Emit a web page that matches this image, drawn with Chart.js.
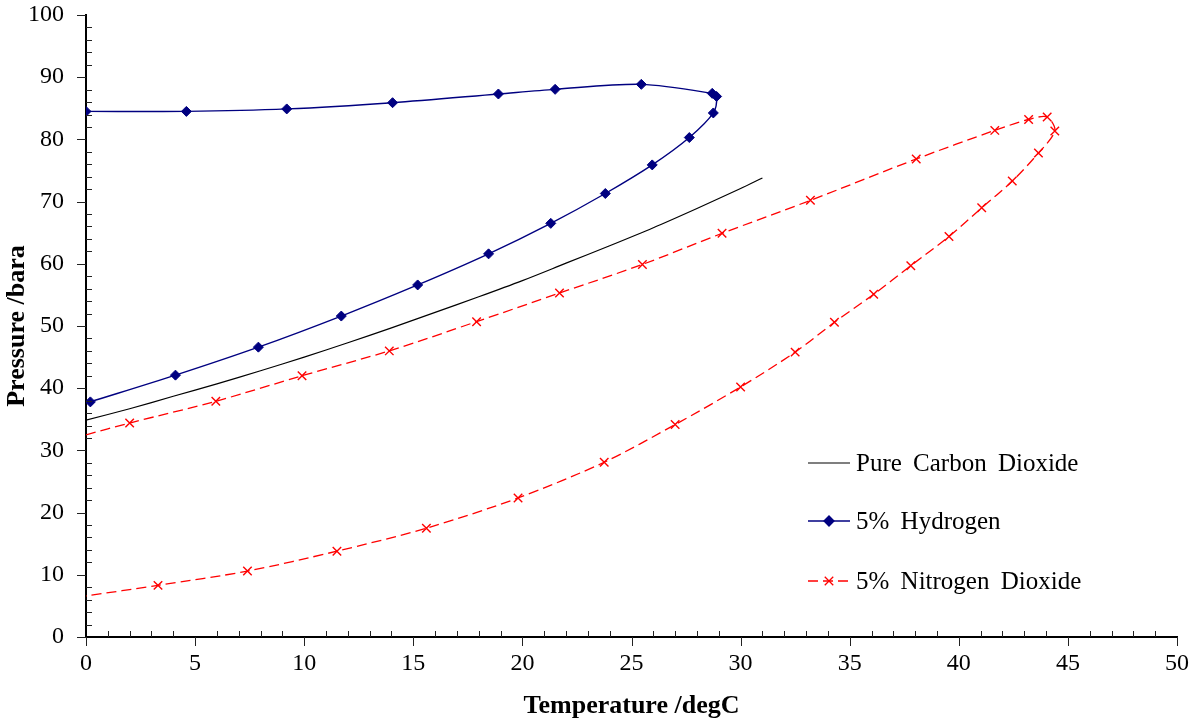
<!DOCTYPE html>
<html>
<head>
<meta charset="utf-8">
<script src="https://cdn.jsdelivr.net/npm/chart.js@4"></script>
<style>
  body { margin: 0; background: #fff; }
  #wrap { width: 1196px; height: 724px; position: relative; }
</style>
</head>
<body>
<div id="wrap"><canvas id="myChart"></canvas></div>
<script>
// Pure CO2 saturation line (no markers)
const co2Temp = [0, 2, 4, 6, 8, 10, 12, 14, 16, 18, 20, 22, 24, 26, 28, 30, 31];
const co2Pres = [34.85, 36.7, 38.7, 40.7, 42.8, 45.0, 47.3, 49.7, 52.2, 54.7, 57.3, 60.1, 62.9, 65.8, 68.9, 72.1, 73.8];

// 5% Hydrogen envelope
const h2Temp = [0.2, 4.1, 7.9, 11.7, 15.2, 18.45, 21.3, 23.8, 25.95, 27.65, 28.75, 28.9, 28.7, 25.45, 21.5, 18.9, 14.05, 9.2, 4.6, 0.0];
const h2Pres = [37.8, 42.1, 46.6, 51.6, 56.6, 61.6, 66.5, 71.3, 75.9, 80.3, 84.25, 86.9, 87.4, 88.85, 88.05, 87.3, 85.9, 84.9, 84.5, 84.5];

// 5% Nitrogen Dioxide envelope
const n2oTemp = [0, 2.0, 5.95, 9.9, 13.9, 17.9, 21.7, 25.5, 29.15, 33.2, 38.05, 41.65, 43.2, 44.05, 44.4, 43.65, 42.45, 41.05, 39.55, 37.8, 36.1, 34.3, 32.5, 30.0, 27.0, 23.75, 19.8, 15.6, 11.5, 7.4, 3.3, 0];
const n2oPres = [32.5, 34.4, 37.9, 42.0, 46.0, 50.7, 55.3, 59.9, 64.9, 70.2, 76.85, 81.45, 83.2, 83.6, 81.35, 77.8, 73.3, 69.0, 64.4, 59.7, 55.1, 50.6, 45.8, 40.2, 34.15, 28.1, 22.35, 17.5, 13.8, 10.6, 8.3, 6.6];

const seriesNames = ["Pure Carbon Dioxide", "5% Hydrogen", "5% Nitrogen Dioxide"];

const xTicks = { min: 0, max: 50, major: 5, minor: 1 };
const yTicks = { min: 0, max: 100, major: 10, minor: 2 };

function pairs(xs, ys) {
    return xs.map((x, i) => ({ x: x, y: ys[i] }));
}

const FONT = "'Liberation Serif', 'Times New Roman', serif";

// tick marks: major outward, minor inward
const tickPlugin = {
    id: 'tickMarks',
    afterDraw(chart) {
        const ctx = chart.ctx;
        const xs = chart.scales.x, ys = chart.scales.y;
        const left = chart.chartArea.left, bottom = chart.chartArea.bottom;
        ctx.save();
        ctx.strokeStyle = '#222';
        ctx.lineWidth = 1;
        ctx.beginPath();
        for (let v = yTicks.min; v <= yTicks.max; v += yTicks.minor) {
            const py = Math.round(ys.getPixelForValue(v)) + 0.5;
            if (v % yTicks.major === 0) {
                ctx.moveTo(left - 9, py); ctx.lineTo(left, py);
            } else {
                ctx.moveTo(left, py); ctx.lineTo(left + 6, py);
            }
        }
        for (let v = xTicks.min; v <= xTicks.max; v += xTicks.minor) {
            const px = Math.round(xs.getPixelForValue(v)) + 0.5;
            if (v % xTicks.major === 0) {
                ctx.moveTo(px, bottom); ctx.lineTo(px, bottom + 9);
            } else {
                ctx.moveTo(px, bottom); ctx.lineTo(px, bottom - 6);
            }
        }
        ctx.stroke();
        ctx.restore();
    }
};

// legend drawn inside the plot, lower right
const legendPlugin = {
    id: 'innerLegend',
    afterDraw(chart) {
        const ctx = chart.ctx;
        const rows = [463, 521, 581];
        ctx.save();
        ctx.font = "25px " + FONT;
        ctx.wordSpacing = '5px';
        ctx.textBaseline = 'middle';
        ctx.fillStyle = '#000';
        chart.data.datasets.forEach((ds, i) => {
            const y = rows[i];
            ctx.strokeStyle = ds.borderColor;
            ctx.lineWidth = ds.borderWidth;
            ctx.setLineDash(ds.borderDash || []);
            ctx.beginPath();
            ctx.moveTo(808, y); ctx.lineTo(850, y);
            ctx.stroke();
            ctx.setLineDash([]);
            if (ds.pointStyle && ds.legendMarker) {
                ctx.fillStyle = ds.pointBackgroundColor;
                ctx.strokeStyle = ds.pointBorderColor;
                ctx.lineWidth = 1.3;
                Chart.helpers.drawPoint(ctx, { pointStyle: ds.pointStyle, radius: ds.legendMarker, rotation: 0, borderWidth: 1.3 }, 829, y);
            }
            ctx.fillStyle = '#000';
            ctx.fillText(seriesNames[i], 856, y + 1);
        });
        ctx.restore();
    }
};

const chartData = {
    type: 'scatter',
    data: {
        datasets: [
            {
                label: seriesNames[0],
                data: pairs(co2Temp, co2Pres),
                showLine: true,
                borderColor: '#000000',
                borderWidth: 1.2,
                pointRadius: 0,
                tension: 0.3,
            },
            {
                label: seriesNames[1],
                data: pairs(h2Temp, h2Pres),
                showLine: true,
                borderColor: '#000080',
                borderWidth: 1.4,
                pointStyle: 'rectRot',
                pointRadius: 5,
                pointBackgroundColor: '#000080',
                pointBorderColor: '#000080',
                pointBorderWidth: 1,
                legendMarker: 5,
                tension: 0.3,
            },
            {
                label: seriesNames[2],
                data: pairs(n2oTemp, n2oPres),
                showLine: true,
                borderColor: '#ff0000',
                borderWidth: 1.3,
                borderDash: [10, 5],
                pointStyle: 'crossRot',
                pointRadius: (c) => (c.dataIndex === 0 || c.dataIndex === n2oTemp.length - 1) ? 0 : 6,
                pointBackgroundColor: '#ff0000',
                pointBorderColor: '#ff0000',
                pointBorderWidth: 1.4,
                legendMarker: 6,
                tension: 0.3,
            },
        ]
    },
    options: {
        responsive: true,
        maintainAspectRatio: false,
        animation: false,
        layout: { padding: { left: 0, right: 19, top: 15, bottom: 0 } },
        plugins: {
            legend: { display: false },
            tooltip: { enabled: false },
        },
        scales: {
            x: {
                type: 'linear',
                position: 'bottom',
                min: xTicks.min,
                max: xTicks.max,
                afterFit: (s) => {
                    s.height = 87;
                    s.paddingLeft = 0; s.paddingRight = 0;
                    s.paddingTop = 0; s.paddingBottom = 0;
                },
                grid: { display: false, drawTicks: false },
                border: { display: true, color: '#000', width: 2 },
                ticks: {
                    stepSize: xTicks.major,
                    padding: 12,
                    color: '#000',
                    font: { family: FONT, size: 24 },
                    maxRotation: 0,
                },
                title: {
                    display: true,
                    text: 'Temperature /degC',
                    color: '#000',
                    font: { family: FONT, size: 26, weight: 'bold' },
                    padding: { top: 0, bottom: 2 },
                }
            },
            y: {
                type: 'linear',
                position: 'left',
                min: yTicks.min,
                max: yTicks.max,
                afterFit: (s) => {
                    s.width = 86;
                    s.paddingLeft = 0; s.paddingRight = 0;
                    s.paddingTop = 0; s.paddingBottom = 0;
                },
                grid: { display: false, drawTicks: false },
                border: { display: true, color: '#000', width: 2 },
                ticks: {
                    stepSize: yTicks.major,
                    padding: 22,
                    color: '#000',
                    font: { family: FONT, size: 24 },
                },
                title: {
                    display: true,
                    text: 'Pressure /bara',
                    color: '#000',
                    font: { family: FONT, size: 26, weight: 'bold' },
                    padding: { top: 2, bottom: 0 },
                }
            }
        }
    },
    plugins: [tickPlugin, legendPlugin]
};

const ctx = document.getElementById('myChart');
new Chart(ctx, chartData);
</script>
</body>
</html>
